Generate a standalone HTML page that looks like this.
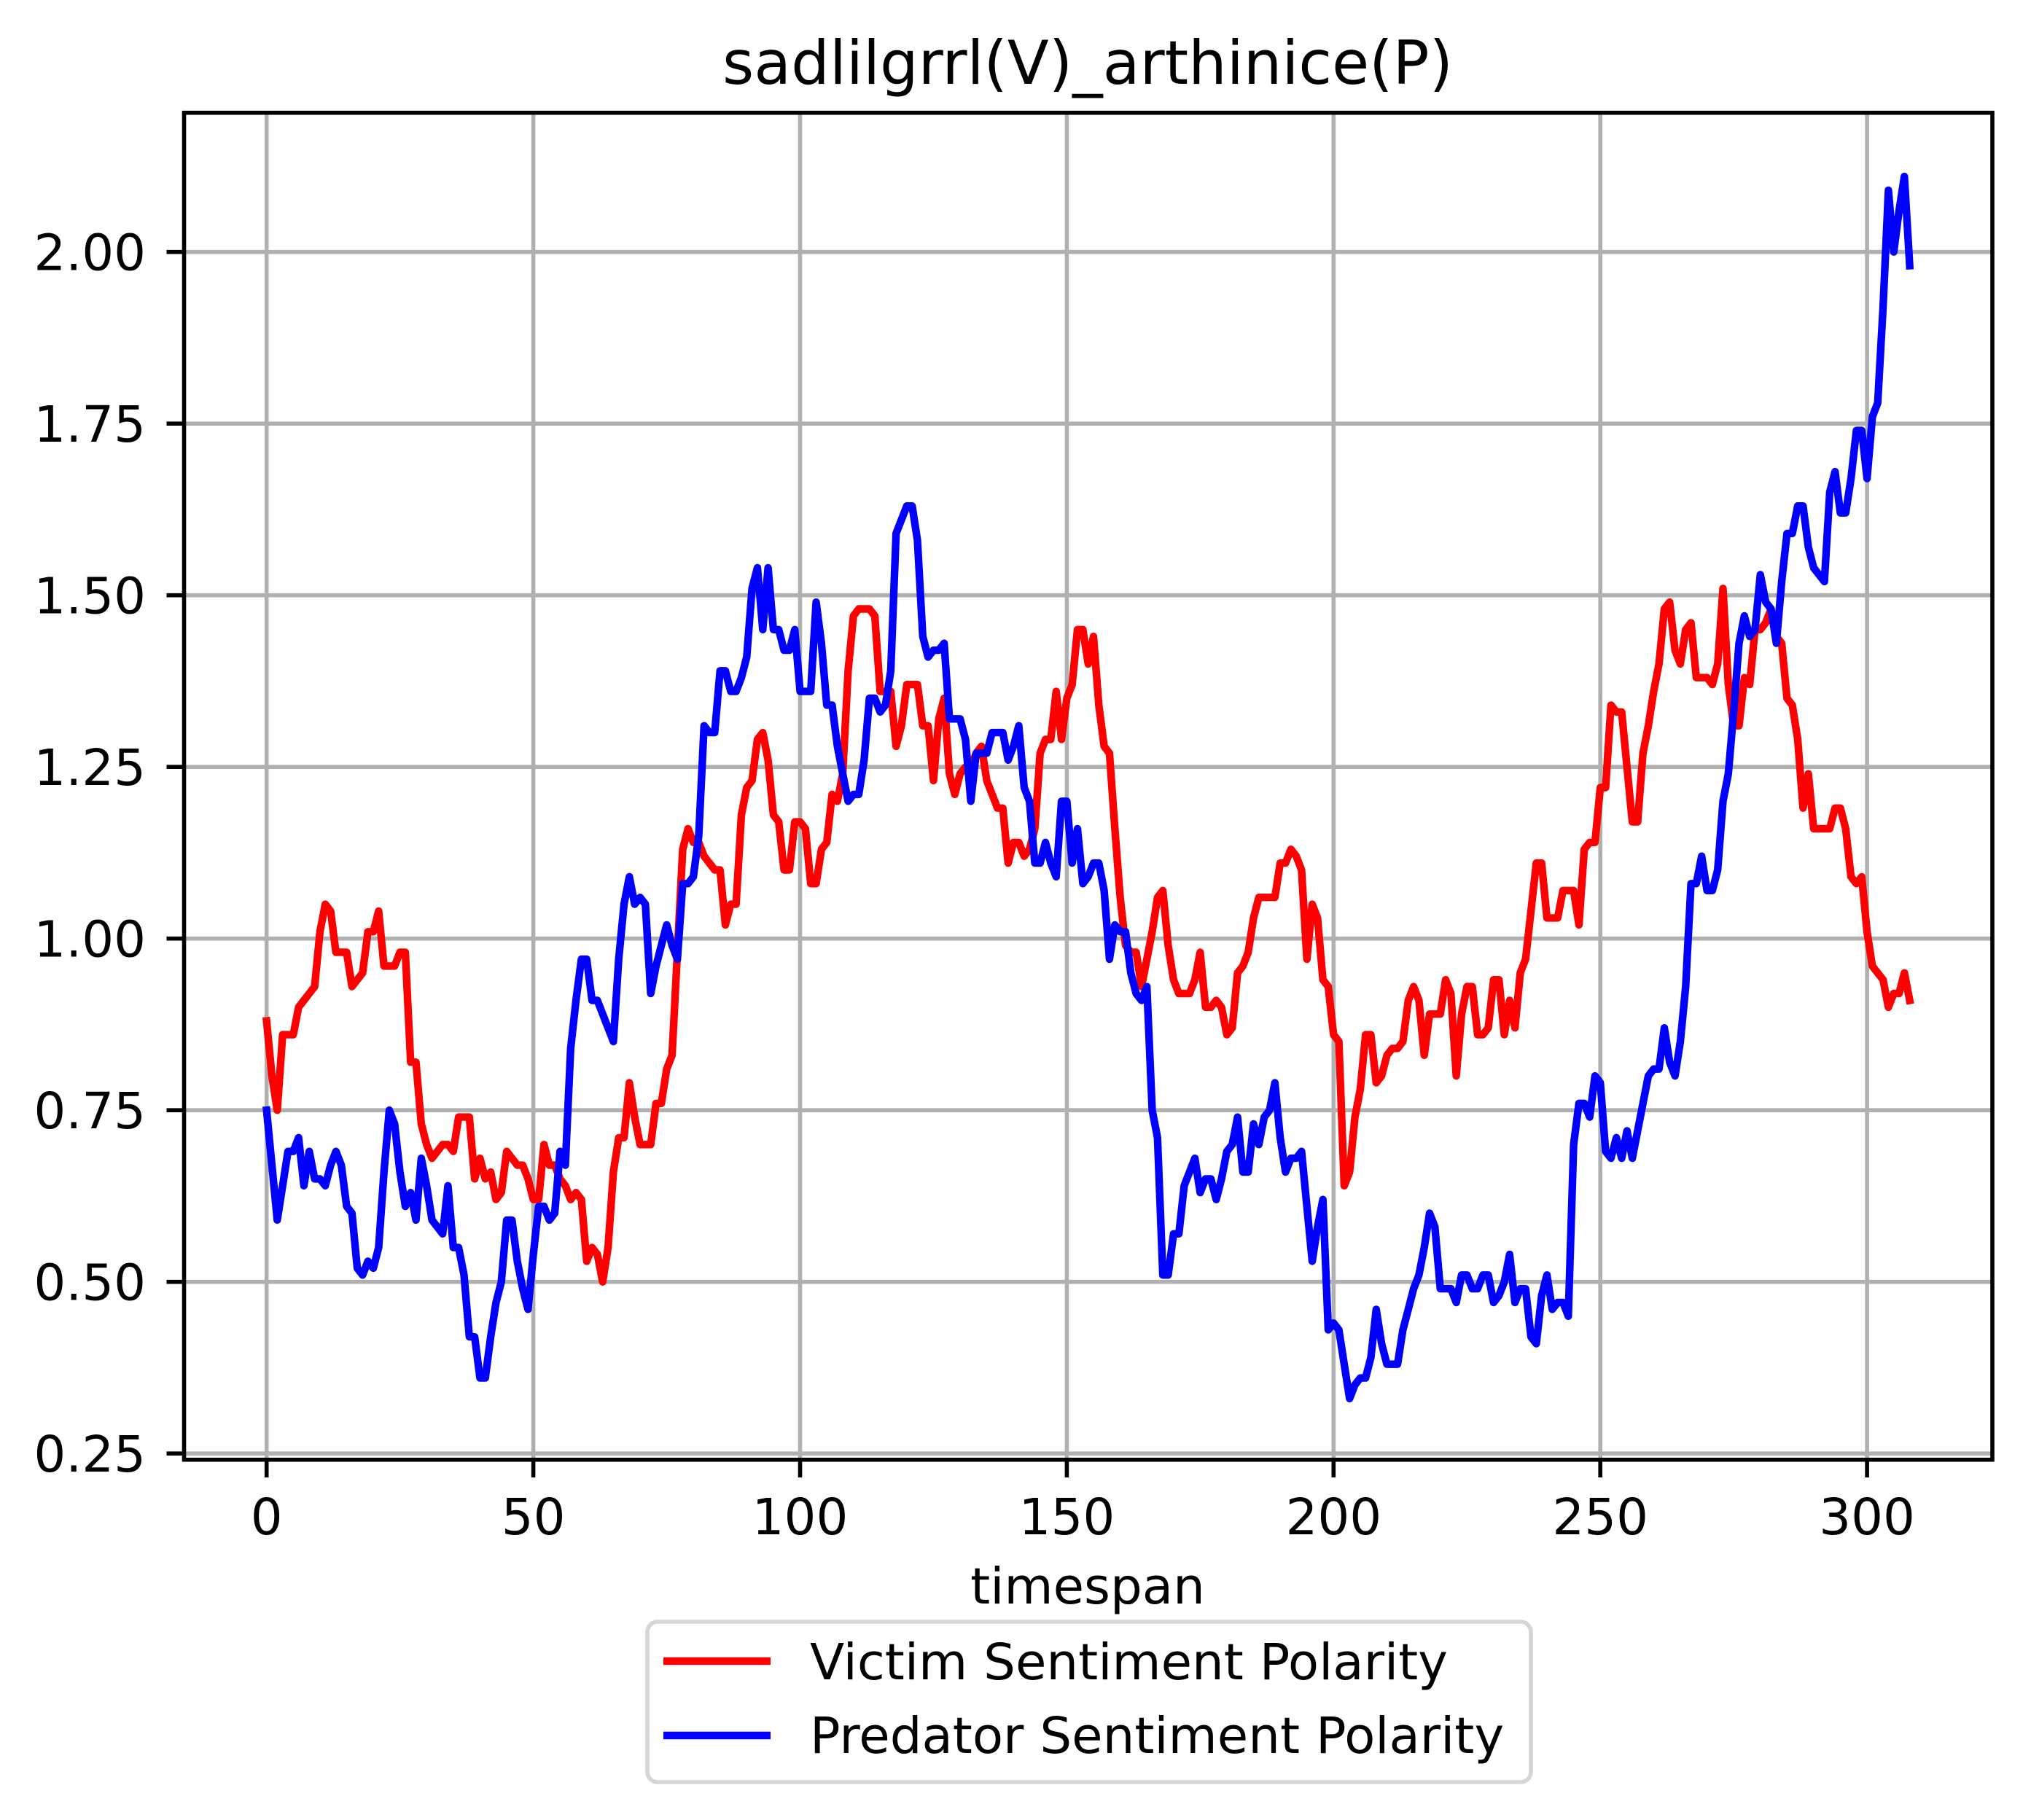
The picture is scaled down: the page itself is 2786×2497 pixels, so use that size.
<!DOCTYPE html>
<html>
<head>
<meta charset="utf-8">
<style>
  html, body { margin: 0; padding: 0; background: #fff; }
  svg { display: block; }
  text { font-family: "DejaVu Sans", "Liberation Sans", sans-serif; fill: #000; }
</style>
</head>
<body>
<svg id="chart" xmlns="http://www.w3.org/2000/svg" width="2786" height="2497" viewBox="0 0 2786 2497">
  <rect x="0" y="0" width="2786" height="2497" fill="#fff"/>
  <text x="1492" y="115" font-size="83" text-anchor="middle">sadlilgrrl(V)_arthinice(P)</text>
  <g id="grid"></g>
  <g id="series"></g>
  <rect x="252.5" y="154.7" width="2480.5" height="1848" fill="none" stroke="#000" stroke-width="5.6"/>
  <g id="ticks"></g>
  <text x="1492" y="2200" font-size="69" text-anchor="middle">timespan</text>
  <g>
    <rect x="888" y="2225" width="1212" height="220" rx="14" ry="14" fill="#fff" stroke="#d6d6d6" stroke-width="5.6"/>
    <line x1="910" y1="2279" x2="1057" y2="2279" stroke="#ff0000" stroke-width="10.4"/>
    <text x="1111" y="2304" font-size="69">Victim Sentiment Polarity</text>
    <line x1="910" y1="2381" x2="1057" y2="2381" stroke="#0000ff" stroke-width="10.4"/>
    <text x="1111" y="2405" font-size="69">Predator Sentiment Polarity</text>
  </g>
</svg>
<script>
const victimValues = [
0.88,0.80,0.75,0.86,0.86,0.86,0.90,0.91,0.92,0.93,
1.01,1.05,1.04,0.98,0.98,0.98,0.93,0.94,0.95,1.01,
1.01,1.04,0.96,0.96,0.96,0.98,0.98,0.82,0.82,0.73,
0.70,0.68,0.69,0.70,0.70,0.69,0.74,0.74,0.74,0.65,
0.68,0.65,0.66,0.62,0.63,0.69,0.68,0.67,0.67,0.65,
0.62,0.62,0.70,0.67,0.67,0.65,0.64,0.62,0.63,0.62,
0.53,0.55,0.54,0.50,0.55,0.66,0.71,0.71,0.79,0.74,
0.70,0.70,0.70,0.76,0.76,0.81,0.83,0.98,1.13,1.16,
1.14,1.14,1.12,1.11,1.10,1.10,1.02,1.05,1.05,1.18,
1.22,1.23,1.29,1.30,1.26,1.18,1.17,1.10,1.10,1.17,
1.17,1.16,1.08,1.08,1.13,1.14,1.21,1.20,1.24,1.39,
1.47,1.48,1.48,1.48,1.47,1.36,1.36,1.36,1.28,1.31,
1.37,1.37,1.37,1.31,1.31,1.23,1.32,1.35,1.24,1.21,
1.24,1.25,1.25,1.27,1.28,1.23,1.21,1.19,1.19,1.11,
1.14,1.14,1.12,1.13,1.16,1.27,1.29,1.29,1.36,1.29,
1.35,1.37,1.45,1.45,1.40,1.44,1.34,1.28,1.27,1.16,
1.06,0.99,0.98,0.98,0.93,0.97,1.01,1.06,1.07,0.99,
0.94,0.92,0.92,0.92,0.94,0.98,0.90,0.90,0.91,0.90,
0.86,0.87,0.95,0.96,0.98,1.03,1.06,1.06,1.06,1.06,
1.11,1.11,1.13,1.12,1.10,0.97,1.05,1.03,0.94,0.93,
0.86,0.85,0.64,0.66,0.74,0.78,0.86,0.86,0.79,0.80,
0.83,0.84,0.84,0.85,0.91,0.93,0.91,0.83,0.89,0.89,
0.89,0.94,0.92,0.80,0.89,0.93,0.93,0.86,0.86,0.87,
0.94,0.94,0.86,0.91,0.87,0.95,0.97,1.04,1.11,1.11,
1.03,1.03,1.03,1.07,1.07,1.07,1.02,1.13,1.14,1.14,
1.22,1.22,1.34,1.33,1.33,1.25,1.17,1.17,1.27,1.31,
1.36,1.40,1.48,1.49,1.42,1.40,1.45,1.46,1.38,1.38,
1.38,1.37,1.40,1.51,1.37,1.31,1.31,1.38,1.37,1.45,
1.45,1.46,1.48,1.44,1.43,1.35,1.34,1.29,1.19,1.24,
1.16,1.16,1.16,1.16,1.19,1.19,1.16,1.09,1.08,1.09,
1.01,0.96,0.95,0.94,0.90,0.92,0.92,0.95,0.91
];
const predatorValues = [
0.75,0.67,0.59,0.64,0.69,0.69,0.71,0.64,0.69,0.65,
0.65,0.64,0.67,0.69,0.67,0.61,0.60,0.52,0.51,0.53,
0.52,0.55,0.66,0.75,0.73,0.66,0.61,0.63,0.59,0.68,
0.64,0.59,0.58,0.57,0.64,0.55,0.55,0.51,0.42,0.42,
0.36,0.36,0.42,0.47,0.50,0.59,0.59,0.53,0.49,0.46,
0.54,0.61,0.61,0.59,0.60,0.69,0.67,0.84,0.91,0.97,
0.97,0.91,0.91,0.89,0.87,0.85,0.97,1.05,1.09,1.05,
1.06,1.05,0.92,0.96,0.99,1.02,0.99,0.97,1.08,1.08,
1.09,1.15,1.31,1.30,1.30,1.39,1.39,1.36,1.36,1.38,
1.41,1.51,1.54,1.45,1.54,1.45,1.45,1.42,1.42,1.45,
1.36,1.36,1.36,1.49,1.43,1.34,1.34,1.28,1.24,1.20,
1.21,1.21,1.26,1.35,1.35,1.33,1.34,1.39,1.59,1.61,
1.63,1.63,1.58,1.44,1.41,1.42,1.42,1.43,1.32,1.32,
1.32,1.29,1.20,1.27,1.27,1.27,1.30,1.30,1.30,1.26,
1.28,1.31,1.22,1.20,1.11,1.11,1.14,1.11,1.09,1.20,
1.20,1.11,1.16,1.08,1.09,1.11,1.11,1.07,0.97,1.02,
1.01,1.01,0.95,0.92,0.91,0.93,0.75,0.71,0.51,0.51,
0.57,0.57,0.64,0.66,0.68,0.63,0.65,0.65,0.62,0.65,
0.69,0.70,0.74,0.66,0.66,0.73,0.70,0.74,0.75,0.79,
0.71,0.66,0.68,0.68,0.69,0.61,0.53,0.58,0.62,0.43,
0.44,0.43,0.38,0.33,0.35,0.36,0.36,0.39,0.46,0.41,
0.38,0.38,0.38,0.43,0.46,0.49,0.51,0.55,0.60,0.58,
0.49,0.49,0.49,0.47,0.51,0.51,0.49,0.49,0.51,0.51,
0.47,0.48,0.50,0.54,0.47,0.49,0.49,0.42,0.41,0.48,
0.51,0.46,0.47,0.47,0.45,0.70,0.76,0.76,0.74,0.80,
0.79,0.69,0.68,0.71,0.68,0.72,0.68,0.72,0.76,0.80,
0.81,0.81,0.87,0.82,0.80,0.85,0.93,1.08,1.08,1.12,
1.07,1.07,1.10,1.20,1.24,1.33,1.43,1.47,1.44,1.45,
1.53,1.49,1.48,1.43,1.52,1.59,1.59,1.63,1.63,1.57,
1.54,1.53,1.52,1.65,1.68,1.62,1.62,1.67,1.74,1.74,
1.67,1.76,1.78,1.92,2.09,2.00,2.06,2.11,1.98
];
const xTickValues = [0, 50, 100, 150, 200, 250, 300];
const xTickLabels = ["0", "50", "100", "150", "200", "250", "300"];
const yTickValues = [0.25, 0.5, 0.75, 1.0, 1.25, 1.5, 1.75, 2.0];
const yTickLabels = ["0.25", "0.50", "0.75", "1.00", "1.25", "1.50", "1.75", "2.00"];

const NS = "http://www.w3.org/2000/svg";
const AX = { left: 252.5, right: 2733, top: 154.7, bottom: 2003 };
function xScale(t) { return 365.7 + t * 7.318; }
function yScale(v) { return 345.7 + (2 - v) * 942; }

const grid = document.getElementById('grid');
const ticks = document.getElementById('ticks');
const series = document.getElementById('series');

xTickValues.forEach(function (t, i) {
  const x = xScale(t);
  const g = document.createElementNS(NS, 'line');
  g.setAttribute('x1', x); g.setAttribute('x2', x);
  g.setAttribute('y1', AX.top); g.setAttribute('y2', AX.bottom);
  g.setAttribute('stroke', '#b0b0b0'); g.setAttribute('stroke-width', '5.6');
  
  
  grid.appendChild(g);
  const tk = document.createElementNS(NS, 'line');
  tk.setAttribute('x1', x); tk.setAttribute('x2', x);
  tk.setAttribute('y1', AX.bottom); tk.setAttribute('y2', AX.bottom + 24);
  tk.setAttribute('stroke', '#000'); tk.setAttribute('stroke-width', '5.6');
  
  
  ticks.appendChild(tk);
  const lb = document.createElementNS(NS, 'text');
  lb.setAttribute('x', x); lb.setAttribute('y', 2105);
  lb.setAttribute('font-size', '69'); lb.setAttribute('text-anchor', 'middle');
  lb.textContent = xTickLabels[i];
  
  
  ticks.appendChild(lb);
});

yTickValues.forEach(function (v, i) {
  const y = yScale(v);
  const g = document.createElementNS(NS, 'line');
  g.setAttribute('x1', AX.left); g.setAttribute('x2', AX.right);
  g.setAttribute('y1', y); g.setAttribute('y2', y);
  g.setAttribute('stroke', '#b0b0b0'); g.setAttribute('stroke-width', '5.6');
  
  
  grid.appendChild(g);
  const tk = document.createElementNS(NS, 'line');
  tk.setAttribute('x1', AX.left - 24); tk.setAttribute('x2', AX.left);
  tk.setAttribute('y1', y); tk.setAttribute('y2', y);
  tk.setAttribute('stroke', '#000'); tk.setAttribute('stroke-width', '5.6');
  
  
  ticks.appendChild(tk);
  const lb = document.createElementNS(NS, 'text');
  lb.setAttribute('x', 200); lb.setAttribute('y', y + 25);
  lb.setAttribute('font-size', '69'); lb.setAttribute('text-anchor', 'end');
  lb.textContent = yTickLabels[i];
  
  
  ticks.appendChild(lb);
});

function drawLine(values, color, name) {
  const pts = values.map(function (v, t) { return xScale(t).toFixed(1) + ',' + yScale(v).toFixed(1); }).join(' ');
  const pl = document.createElementNS(NS, 'polyline');
  pl.setAttribute('points', pts);
  pl.setAttribute('fill', 'none');
  pl.setAttribute('stroke', color);
  pl.setAttribute('stroke-width', '10.4');
  pl.setAttribute('stroke-linejoin', 'round');
  pl.setAttribute('stroke-linecap', 'square');
  
  
  series.appendChild(pl);
}
drawLine(victimValues, '#ff0000', 'victim-sentiment-line');
drawLine(predatorValues, '#0000ff', 'predator-sentiment-line');
</script>
</body>
</html>
